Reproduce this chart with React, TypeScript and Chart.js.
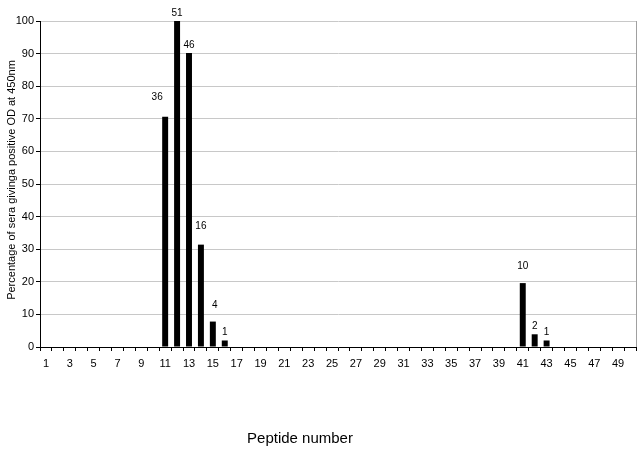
import React, { useEffect, useRef } from "react";
import { Chart, registerables } from "chart.js";

Chart.register(...registerables);

const categories: string[] = Array.from({ length: 50 }, (_, i) => String(i + 1));
const barCategories = ["11", "12", "13", "14", "15", "16", "41", "42", "43"];
const barPercent = [70.6, 100, 90.2, 31.4, 7.8, 2.0, 19.6, 3.9, 2.0];
const barCounts = ["36", "51", "46", "16", "4", "1", "10", "2", "1"];
const yTicks = [0, 10, 20, 30, 40, 50, 60, 70, 80, 90, 100];

const yTitle = "Percentage of sera givinga positive OD at 450nm";
const xTitle = "Peptide number";

const FONT = "'Liberation Sans', Arial, sans-serif";

// label nudges (style only): [dx, dy] in px from default position above bar
const labelNudge: Record<number, [number, number]> = {
  0: [-8, -12],
  3: [0, -10],
  4: [2, -8],
  6: [0, -9],
};

export default function App() {
  const ref = useRef<HTMLCanvasElement | null>(null);

  useEffect(() => {
    document.body.style.margin = "0";
    const values = categories.map((c) => {
      const k = barCategories.indexOf(c);
      return k >= 0 ? barPercent[k] : null;
    });

    const overlay = {
      id: "overlay",
      afterDatasetsDraw(chart: any) {
        const { ctx, chartArea } = chart;
        const meta = chart.getDatasetMeta(0);
        ctx.save();
        // right border
        ctx.strokeStyle = "#a0a0a0";
        ctx.lineWidth = 1;
        ctx.beginPath();
        ctx.moveTo(Math.round(chartArea.right) + 0.5, chartArea.top);
        ctx.lineTo(Math.round(chartArea.right) + 0.5, chartArea.bottom);
        ctx.stroke();
        // value labels
        ctx.fillStyle = "#000";
        ctx.font = `10px ${FONT}`;
        ctx.textAlign = "center";
        ctx.textBaseline = "bottom";
        barCategories.forEach((c, k) => {
          const idx = categories.indexOf(c);
          const el = meta.data[idx];
          if (!el) return;
          const n = labelNudge[k] || [0, 0];
          ctx.fillText(barCounts[k], el.x + n[0], el.y - 3 + n[1]);
        });
        // titles
        ctx.font = `15px ${FONT}`;
        ctx.textBaseline = "middle";
        ctx.fillText(xTitle, 300, 439);
        ctx.translate(12, 180);
        ctx.rotate(-Math.PI / 2);
        ctx.font = `11px ${FONT}`;
        ctx.fillText(yTitle, 0, 0);
        ctx.restore();
      },
    };

    const chart = new Chart(ref.current as HTMLCanvasElement, {
      type: "bar",
      data: {
        labels: categories,
        datasets: [
          {
            data: values as any,
            backgroundColor: "#000",
            borderWidth: 0,
            barPercentage: 0.5,
            categoryPercentage: 1,
          },
        ],
      },
      options: {
        animation: false,
        responsive: false,
        layout: { padding: { top: 21, right: 6, left: 0, bottom: 0 } },
        plugins: { legend: { display: false }, tooltip: { enabled: false } },
        scales: {
          x: {
            offset: true,
            grid: {
              display: true,
              offset: true,
              drawOnChartArea: false,
              drawTicks: true,
              tickLength: 4,
              color: "#000",
            },
            border: { display: true, color: "#000", width: 1 },
            ticks: {
              autoSkip: false,
              maxRotation: 0,
              padding: 6,
              color: "#000",
              font: { family: FONT, size: 11 },
              callback: (_v: any, i: number) => (i % 2 === 0 ? categories[i] : ""),
            },
            afterFit: (s: any) => {
              s.height = 102;
            },
          },
          y: {
            min: 0,
            max: 100,
            afterBuildTicks: (s: any) => {
              s.ticks = yTicks.map((v) => ({ value: v }));
            },
            grid: {
              color: "#c8c8c8",
              tickColor: "#000",
              tickLength: 4,
              drawTicks: true,
            },
            border: { display: true, color: "#000", width: 1 },
            ticks: {
              padding: 2,
              color: "#000",
              font: { family: FONT, size: 11 },
            },
            afterFit: (s: any) => {
              s.width = 40;
            },
          },
        },
      },
      plugins: [overlay],
    });
    return () => chart.destroy();
  }, []);

  return (
    <div style={{ position: "fixed", left: 0, top: 0, width: 642, height: 449, background: "#fff" }}>
      <canvas ref={ref} width={642} height={449} />
    </div>
  );
}
